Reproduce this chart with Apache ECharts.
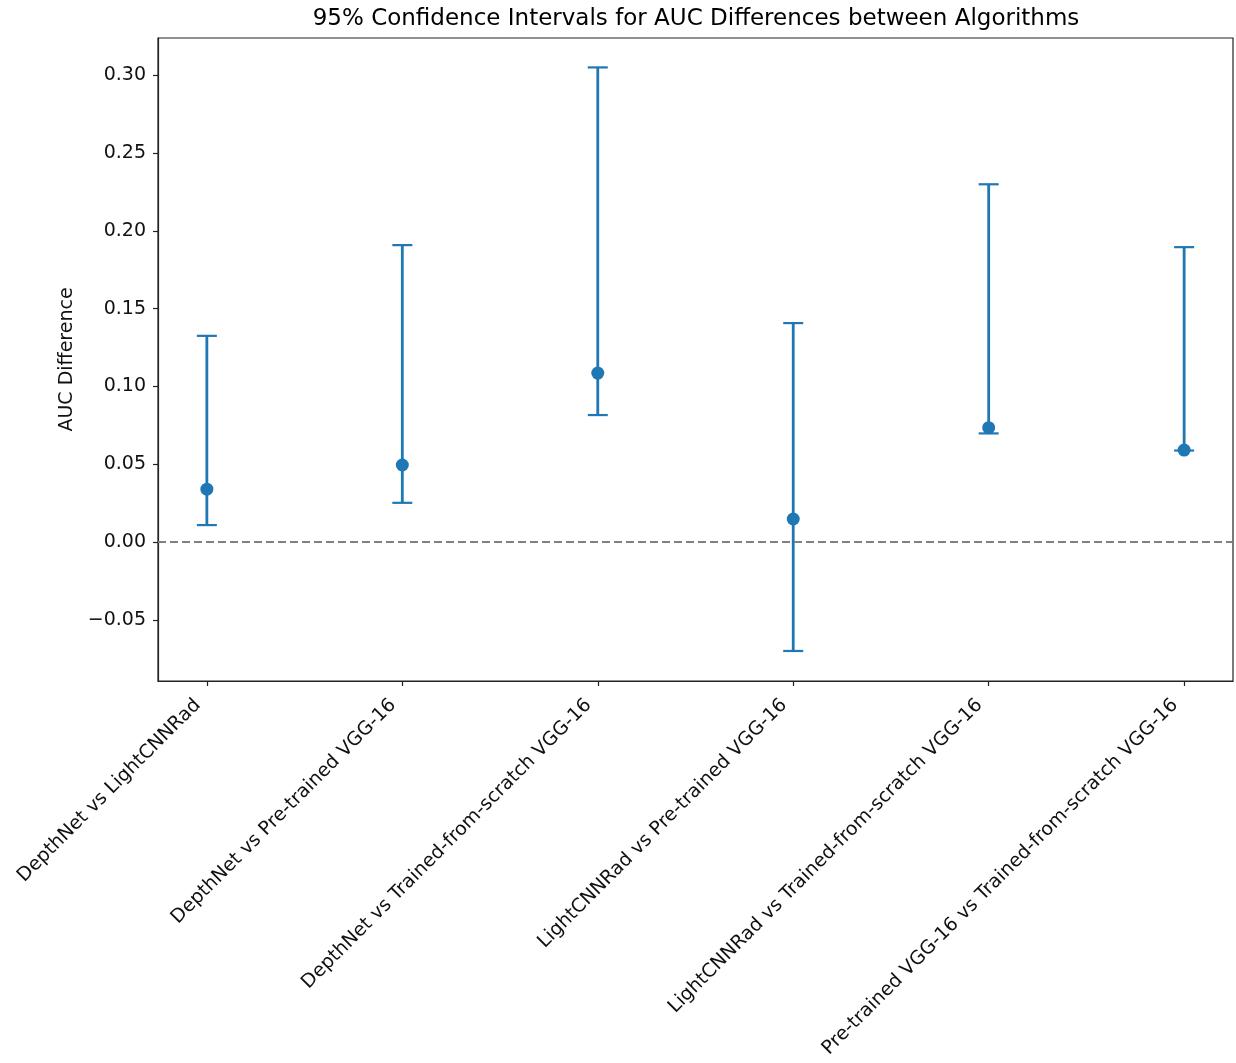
<!DOCTYPE html>
<html><head><meta charset="utf-8">
<script src="https://cdn.jsdelivr.net/npm/echarts@6/dist/echarts.min.js"></script>
<style>html,body{margin:0;padding:0;background:#fff}#c{width:1236px;height:1063px}</style>
</head><body><div id="c"></div>
<script>
const categories = [
  'DepthNet vs LightCNNRad',
  'DepthNet vs Pre-trained VGG-16',
  'DepthNet vs Trained-from-scratch VGG-16',
  'LightCNNRad vs Pre-trained VGG-16',
  'LightCNNRad vs Trained-from-scratch VGG-16',
  'Pre-trained VGG-16 vs Trained-from-scratch VGG-16'
];
const meanDiff = [0.034, 0.0495, 0.1086, 0.0148, 0.0735, 0.0591];
const lowerCI  = [0.0109, 0.0252, 0.0816, -0.0700, 0.0698, 0.0588];
const upperCI  = [0.1325, 0.1908, 0.3050, 0.1407, 0.2299, 0.1895];
const yTicks = [-0.05, 0, 0.05, 0.10, 0.15, 0.20, 0.25, 0.30];

const FONT = 'DejaVu Sans';
const BLUE = '#1f77b4';
const xIdx = categories.map((_, i) => i);

const chart = echarts.init(document.getElementById('c'), null, {renderer: 'canvas'});
chart.setOption({
  animation: false,
  backgroundColor: '#fff',
  title: {
    text: '95% Confidence Intervals for AUC Differences between Algorithms',
    left: 691, top: 3, textAlign: 'center',
    textStyle: {fontFamily: FONT, fontSize: 23, fontWeight: 'normal', color: '#000'}
  },
  grid: {left: 158, right: 3, top: 38, bottom: 382, show: true, borderColor: '#222', borderWidth: 1.2, backgroundColor: 'transparent'},
  xAxis: {
    type: 'value', min: -0.25, max: 5.25,
    splitLine: {show: false},
    axisLine: {show: true, onZero: false, lineStyle: {color: '#222', width: 1.2}},
    axisTick: {show: true, customValues: xIdx, length: 5, lineStyle: {color: '#222', width: 1.2}},
    axisLabel: {
      customValues: xIdx, rotate: 45, margin: 12, padding: [0, 13, 0, 0],
      formatter: v => categories[Math.round(v)] || '',
      fontFamily: FONT, fontSize: 19, color: '#111'
    }
  },
  yAxis: {
    type: 'value', min: -0.0893, max: 0.3239,
    name: 'AUC Difference', nameLocation: 'middle', nameGap: 80,
    nameTextStyle: {fontFamily: FONT, fontSize: 19, color: '#111'},
    splitLine: {show: false},
    axisLine: {show: true, onZero: false, lineStyle: {color: '#222', width: 1.2}},
    axisTick: {show: true, customValues: yTicks, length: 5, lineStyle: {color: '#222', width: 1.2}},
    axisLabel: {
      customValues: yTicks, margin: 12,
      formatter: v => (v < 0 ? '\u2212' : '') + Math.abs(v).toFixed(2),
      fontFamily: FONT, fontSize: 19, color: '#111'
    }
  },
  series: [
    {
      type: 'custom',
      data: xIdx.map(i => [i, lowerCI[i], upperCI[i]]),
      encode: {x: 0, y: [1, 2]},
      z: 2,
      renderItem: function (params, api) {
        const x = api.value(0);
        const lo = api.coord([x, api.value(1)]);
        const hi = api.coord([x, api.value(2)]);
        const cw = 10;
        const st = {stroke: BLUE, lineWidth: 2.8, fill: null};
        return {
          type: 'group',
          children: [
            {type: 'line', shape: {x1: lo[0], y1: lo[1], x2: hi[0], y2: hi[1]}, style: st},
            {type: 'line', shape: {x1: lo[0] - cw, y1: lo[1], x2: lo[0] + cw, y2: lo[1]}, style: {stroke: BLUE, lineWidth: 2.2}},
            {type: 'line', shape: {x1: hi[0] - cw, y1: hi[1], x2: hi[0] + cw, y2: hi[1]}, style: {stroke: BLUE, lineWidth: 2.2}}
          ]
        };
      }
    },
    {
      type: 'scatter',
      data: xIdx.map(i => [i, meanDiff[i]]),
      symbol: 'circle', symbolSize: 13,
      itemStyle: {color: BLUE, opacity: 1},
      z: 3,
      markLine: {
        silent: true, symbol: 'none', label: {show: false},
        lineStyle: {color: '#808080', type: [8, 4], width: 2.2},
        data: [{yAxis: 0}]
      }
    }
  ]
});
</script></body></html>
